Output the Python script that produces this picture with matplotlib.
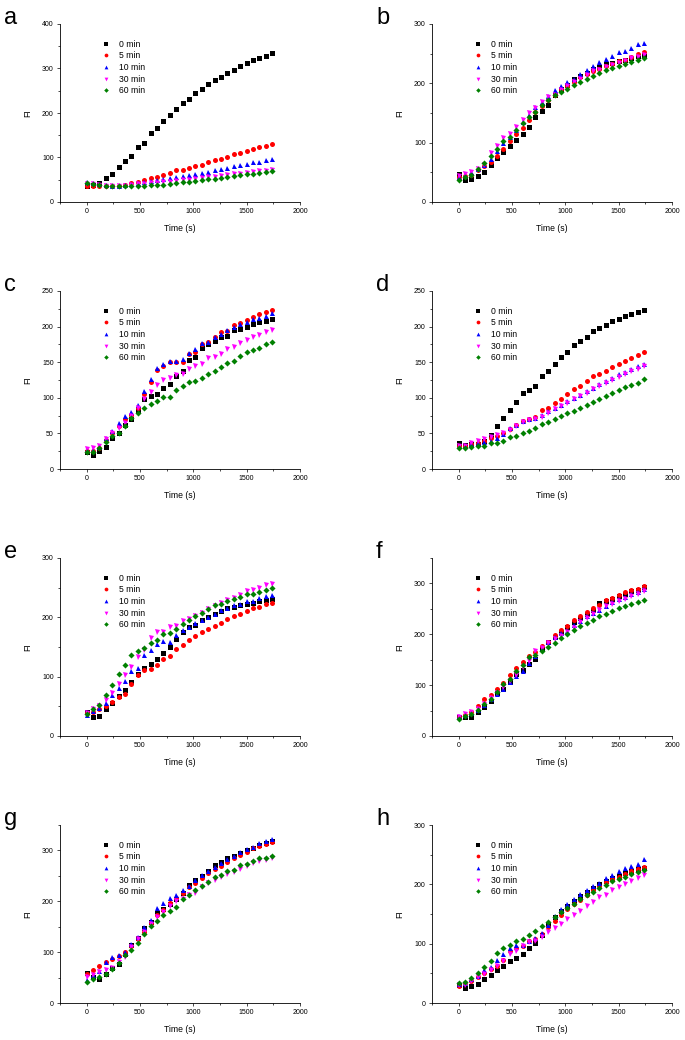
import matplotlib
matplotlib.use('Agg')
import matplotlib.pyplot as plt
from matplotlib.ticker import MultipleLocator

plt.rcParams['font.family'] = ['Liberation Sans', 'DejaVu Sans']

# tid (s), 30 malepunkter
time = [0, 60, 120, 180, 240, 300, 360, 420, 480, 540, 600, 660, 720, 780, 840,
        900, 960, 1020, 1080, 1140, 1200, 1260, 1320, 1380, 1440, 1500, 1560, 1620, 1680, 1740]

labels = ['0 min', '5 min', '10 min', '30 min', '60 min']
colors = ['black', '#ff0000', '#0000ff', '#ff00ff', '#008000']
markers = ['s', 'o', '^', 'v', 'D']

# panel a
a_0 = [37, 38, 43, 53, 63, 78, 93, 104, 123, 133, 154, 167, 182, 196, 209, 222, 231, 244, 255, 266, 274, 282, 291, 297, 305, 312, 319, 323, 329, 335]
a_5 = [36, 36, 37, 36, 35, 35, 38, 42, 45, 49, 55, 57, 61, 66, 71, 73, 77, 82, 84, 89, 94, 97, 102, 107, 110, 115, 120, 123, 126, 130]
a_10 = [45, 42, 40, 38, 37, 37, 38, 40, 42, 45, 47, 49, 51, 54, 56, 58, 61, 64, 66, 68, 72, 74, 77, 80, 83, 85, 89, 91, 94, 97]
a_30 = [41, 40, 39, 37, 36, 36, 37, 38, 40, 41, 42, 43, 44, 46, 47, 49, 50, 52, 54, 56, 57, 59, 61, 62, 64, 66, 67, 69, 70, 72]
a_60 = [42, 40, 39, 37, 35, 35, 35, 35, 36, 37, 38, 38, 39, 40, 42, 44, 45, 47, 49, 51, 52, 54, 56, 58, 60, 62, 64, 65, 67, 70]

# panel b
b_0 = [47, 37, 38, 44, 51, 62, 74, 85, 94, 104, 115, 127, 144, 154, 164, 180, 190, 198, 208, 212, 218, 224, 228, 232, 235, 238, 240, 243, 246, 248]
b_5 = [42, 43, 45, 54, 60, 68, 78, 90, 102, 114, 124, 138, 152, 162, 172, 180, 190, 196, 203, 210, 215, 220, 224, 229, 232, 237, 240, 244, 250, 252]
b_10 = [42, 45, 50, 55, 62, 72, 86, 100, 110, 122, 134, 146, 160, 168, 178, 189, 195, 203, 208, 216, 223, 230, 236, 241, 246, 253, 255, 260, 266, 268]
b_30 = [43, 47, 51, 56, 63, 82, 94, 108, 115, 127, 139, 150, 158, 168, 177, 180, 188, 196, 202, 208, 214, 220, 222, 228, 231, 235, 238, 242, 244, 248]
b_60 = [37, 42, 46, 55, 66, 78, 89, 102, 110, 121, 133, 143, 152, 163, 172, 181, 185, 190, 197, 203, 208, 213, 217, 222, 226, 230, 232, 236, 239, 243]

# panel c
c_0 = [24, 20, 25, 31, 43, 51, 62, 70, 82, 98, 103, 105, 114, 120, 131, 137, 153, 157, 170, 175, 180, 186, 187, 195, 197, 200, 203, 206, 208, 210]
c_5 = [25, 25, 30, 41, 50, 61, 70, 76, 85, 106, 122, 139, 144, 150, 150, 150, 162, 165, 176, 179, 185, 192, 194, 202, 205, 209, 213, 217, 220, 223]
c_10 = [26, 27, 31, 43, 54, 64, 75, 80, 90, 110, 127, 142, 148, 152, 152, 155, 163, 168, 177, 178, 186, 190, 195, 200, 204, 206, 210, 212, 215, 219]
c_30 = [28, 29, 33, 42, 50, 58, 65, 75, 86, 99, 108, 118, 125, 128, 132, 133, 140, 144, 148, 156, 158, 162, 168, 172, 177, 181, 185, 188, 193, 195]
c_60 = [24, 24, 29, 38, 46, 51, 61, 72, 79, 85, 91, 95, 101, 101, 111, 116, 122, 124, 128, 133, 138, 143, 149, 152, 159, 164, 167, 170, 175, 178]

# panel d
d_0 = [37, 34, 35, 35, 40, 48, 60, 71, 83, 94, 107, 111, 117, 130, 138, 148, 158, 165, 174, 180, 185, 194, 198, 202, 208, 210, 215, 217, 220, 224]
d_5 = [33, 33, 35, 37, 40, 44, 46, 50, 56, 62, 68, 70, 73, 83, 85, 93, 99, 105, 112, 116, 123, 130, 134, 138, 143, 148, 152, 156, 160, 164]
d_10 = [33, 32, 35, 37, 38, 40, 44, 49, 58, 62, 68, 70, 72, 76, 82, 86, 90, 96, 100, 104, 110, 114, 120, 124, 128, 133, 136, 140, 144, 147]
d_30 = [33, 33, 36, 39, 42, 45, 48, 51, 55, 60, 66, 69, 70, 73, 79, 84, 89, 93, 98, 102, 107, 112, 116, 121, 125, 129, 133, 138, 140, 144]
d_60 = [30, 29, 31, 33, 32, 36, 37, 40, 45, 47, 50, 54, 57, 63, 66, 70, 74, 78, 81, 86, 90, 94, 98, 103, 107, 111, 115, 118, 121, 126]

# panel e
e_0 = [40, 32, 34, 45, 55, 67, 78, 91, 105, 115, 121, 129, 140, 150, 163, 175, 183, 187, 195, 201, 205, 211, 215, 218, 220, 222, 225, 228, 229, 231]
e_5 = [38, 40, 45, 51, 58, 66, 71, 88, 103, 112, 113, 120, 129, 135, 146, 153, 162, 169, 175, 181, 186, 191, 197, 202, 205, 211, 215, 218, 222, 225]
e_10 = [36, 42, 48, 56, 69, 81, 93, 110, 115, 137, 145, 155, 160, 159, 170, 178, 184, 190, 196, 200, 205, 212, 215, 220, 223, 227, 228, 233, 236, 238]
e_30 = [38, 45, 50, 60, 73, 88, 103, 116, 133, 145, 165, 175, 175, 183, 186, 193, 197, 202, 208, 214, 219, 224, 229, 233, 238, 244, 246, 250, 255, 257]
e_60 = [37, 46, 53, 69, 86, 104, 120, 136, 144, 148, 157, 162, 172, 174, 181, 188, 195, 203, 208, 214, 220, 223, 227, 231, 234, 239, 240, 243, 246, 250]

# panel f
f_0 = [38, 38, 38, 48, 58, 69, 85, 93, 107, 121, 129, 142, 152, 172, 185, 195, 205, 215, 225, 232, 240, 248, 261, 265, 270, 275, 280, 285, 288, 292]
f_5 = [38, 42, 48, 59, 72, 81, 92, 104, 120, 133, 145, 158, 165, 177, 185, 198, 208, 216, 228, 235, 244, 251, 258, 267, 271, 277, 283, 288, 290, 294]
f_10 = [40, 42, 46, 52, 60, 72, 83, 92, 107, 118, 128, 143, 158, 172, 185, 194, 202, 207, 218, 227, 235, 241, 248, 256, 263, 270, 274, 280, 284, 289]
f_30 = [38, 44, 48, 54, 63, 74, 85, 96, 108, 120, 135, 148, 167, 174, 183, 190, 197, 205, 213, 224, 233, 240, 247, 255, 260, 265, 270, 276, 280, 285]
f_60 = [34, 39, 43, 51, 62, 72, 86, 102, 113, 127, 140, 155, 160, 168, 175, 183, 193, 200, 208, 216, 222, 229, 235, 240, 246, 251, 256, 260, 264, 268]

# panel g
g_0 = [59, 52, 48, 58, 68, 76, 97, 115, 128, 147, 160, 176, 185, 195, 205, 216, 233, 242, 250, 260, 271, 278, 285, 289, 294, 300, 305, 310, 315, 318]
g_5 = [57, 65, 72, 80, 86, 93, 100, 113, 126, 140, 158, 174, 183, 196, 206, 216, 228, 236, 246, 256, 264, 270, 278, 285, 291, 297, 304, 308, 312, 316]
g_10 = [46, 56, 63, 80, 90, 95, 100, 116, 130, 150, 164, 187, 196, 206, 213, 223, 231, 241, 252, 259, 267, 275, 283, 290, 296, 302, 306, 314, 318, 322]
g_30 = [52, 55, 60, 64, 68, 80, 90, 110, 125, 139, 155, 170, 178, 190, 200, 205, 212, 217, 228, 235, 242, 248, 254, 258, 264, 270, 275, 279, 281, 285]
g_60 = [42, 48, 52, 57, 67, 79, 94, 105, 118, 135, 151, 162, 173, 181, 188, 205, 213, 223, 231, 238, 248, 252, 259, 262, 272, 273, 280, 286, 285, 289]

# panel h
h_0 = [30, 26, 28, 32, 41, 48, 55, 62, 70, 76, 83, 92, 101, 115, 133, 145, 155, 163, 172, 180, 187, 193, 200, 206, 210, 214, 219, 222, 226, 228]
h_5 = [29, 33, 37, 44, 51, 57, 63, 73, 88, 92, 96, 104, 108, 116, 128, 138, 148, 158, 167, 174, 182, 190, 197, 204, 209, 213, 217, 222, 226, 230]
h_10 = [32, 34, 40, 45, 56, 61, 72, 82, 92, 98, 97, 104, 109, 118, 132, 147, 158, 167, 175, 184, 190, 197, 203, 210, 215, 222, 227, 231, 235, 242]
h_30 = [30, 31, 37, 43, 49, 56, 62, 70, 82, 88, 96, 102, 105, 112, 120, 126, 133, 141, 149, 155, 163, 170, 178, 182, 190, 195, 200, 206, 210, 215]
h_60 = [33, 36, 42, 50, 60, 70, 85, 92, 98, 105, 108, 115, 122, 129, 137, 145, 153, 160, 167, 175, 182, 187, 193, 199, 205, 209, 213, 217, 221, 225]

panels = ['a', 'b', 'c', 'd', 'e', 'f', 'g', 'h']
data = [[a_0, a_5, a_10, a_30, a_60], [b_0, b_5, b_10, b_30, b_60],
        [c_0, c_5, c_10, c_30, c_60], [d_0, d_5, d_10, d_30, d_60],
        [e_0, e_5, e_10, e_30, e_60], [f_0, f_5, f_10, f_30, f_60],
        [g_0, g_5, g_10, g_30, g_60], [h_0, h_5, h_10, h_30, h_60]]
ymaxs = [400, 300, 250, 250, 300, 350, 350, 300]
ymajor = [100, 100, 50, 50, 100, 100, 100, 100]

fig = plt.figure(figsize=(6.85, 10.4), dpi=100)

W, H = 685.0, 1040.0
lefts = [60, 432]
tops = [24, 291, 558, 825]
aw, ah = 240, 178

for i, name in enumerate(panels):
    r, c = i // 2, i % 2
    ax = fig.add_axes([lefts[c] / W, 1 - (tops[r] + ah) / H, aw / W, ah / H])
    for k in range(5):
        ms = 3.6 if markers[k] != 'D' else 3.1
        ax.plot(time, data[i][k], linestyle='none', marker=markers[k], color=colors[k],
                markersize=ms, markeredgewidth=0, label=labels[k])
    ax.set_xlim(-250, 2000)
    ax.set_ylim(0, ymaxs[i])
    ax.spines['top'].set_visible(False)
    ax.spines['right'].set_visible(False)
    ax.spines['left'].set_linewidth(0.6)
    ax.spines['bottom'].set_linewidth(0.6)
    ax.xaxis.set_major_locator(MultipleLocator(500))
    ax.xaxis.set_minor_locator(MultipleLocator(250))
    ax.yaxis.set_major_locator(MultipleLocator(ymajor[i]))
    ax.yaxis.set_minor_locator(MultipleLocator(ymajor[i] / 2))
    ax.tick_params(which='major', direction='out', length=2.5, width=0.5, labelsize=5, pad=2)
    ax.tick_params(which='minor', direction='out', length=1.5, width=0.5)
    ax.set_xlabel('Time (s)', fontsize=6.2, labelpad=6)
    ax.set_ylabel('FI', fontsize=6.2, labelpad=7)
    ax.legend(loc='upper left', bbox_to_anchor=(0.14, 0.93), frameon=False, fontsize=6.2,
              handletextpad=0.5, labelspacing=0.3, markerscale=0.75, borderaxespad=0)
    fig.text((lefts[c] - 56) / W, 1 - (tops[r] - 6) / H, name, fontsize=17,
             ha='left', va='center')

fig.savefig('out.png', dpi=100)
